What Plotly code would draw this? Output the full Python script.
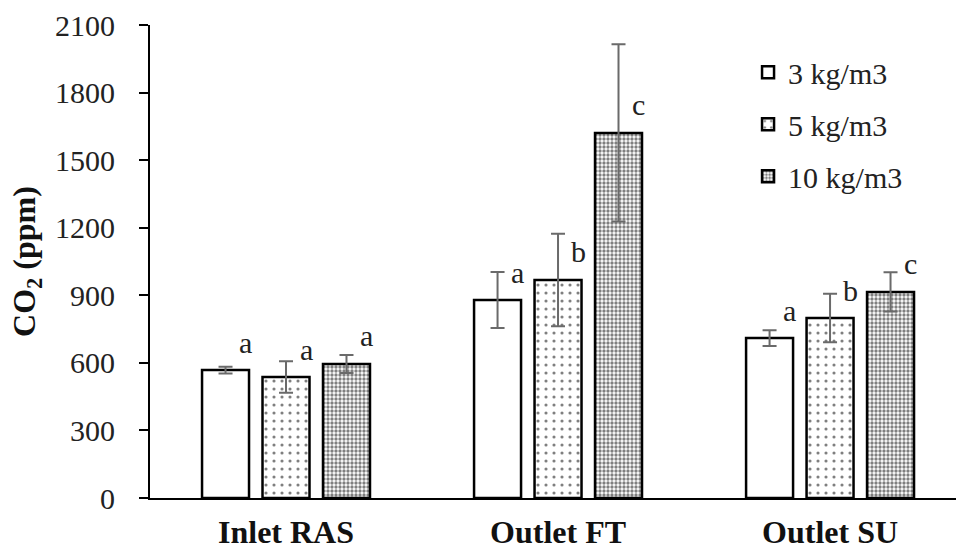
import plotly.graph_objects as go

categories = ["Inlet RAS", "Outlet FT", "Outlet SU"]
series_names = ["3 kg/m3", "5 kg/m3", "10 kg/m3"]
means = [
    [568, 879, 710],
    [537, 968, 799],
    [595, 1621, 915],
]
errors = [
    [15, 124, 35],
    [70, 205, 108],
    [40, 393, 87],
]
letters = [
    ["a", "a", "a"],
    ["a", "b", "b"],
    ["a", "c", "c"],
]

FONT = "Liberation Serif, Times New Roman, serif"
patterns = [
    dict(shape=""),
    dict(shape=".", size=8, solidity=0.12, fgcolor="black", bgcolor="white"),
    dict(shape=".", size=4, solidity=0.55, fgcolor="black", bgcolor="white"),
]

xpos = list(range(len(categories)))

fig = go.Figure()
for i, name in enumerate(series_names):
    fig.add_trace(go.Bar(
        x=xpos, y=means[i], name=name,
        marker=dict(color="white", line=dict(color="black", width=2.5), pattern=patterns[i]),
        error_y=dict(type="data", array=errors[i], color="#6a6a6a", thickness=2, width=7),
        legendgroup=name,
    ))

offsets = [-0.2224, 0.0, 0.2224]
for i in range(3):
    for j in xpos:
        fig.add_annotation(
            x=j + offsets[i], y=means[i][j], text=letters[i][j], showarrow=False,
            xref="x", yref="y", xshift=20, yshift=28, yanchor="middle",
            font=dict(family=FONT, size=30, color="#222"),
        )

fig.update_layout(
    width=956, height=551,
    paper_bgcolor="white", plot_bgcolor="white",
    margin=dict(l=150, r=0, t=25, b=53),
    barmode="group", bargap=0.333, bargroupgap=0.223,
    font=dict(family=FONT, size=30, color="#222"),
    legend=dict(x=0.742, y=0.955, xanchor="left", yanchor="top",
                font=dict(family=FONT, size=30, color="#222"),
                tracegroupgap=10, bgcolor="rgba(0,0,0,0)"),
    showlegend=True,
)
fig.update_xaxes(
    type="linear", range=[-0.5, 2.463],
    tickmode="array", tickvals=xpos, ticktext=categories,
    showline=True, linecolor="black", linewidth=2, ticks="",
    ticklabelstandoff=5,
    showgrid=False, zeroline=False, automargin=False,
    tickfont=dict(family=FONT, size=32, color="#111", weight="bold"),
)
fig.update_yaxes(
    range=[0, 2100], dtick=300, tick0=0,
    showline=True, linecolor="black", linewidth=2,
    ticks="outside", ticklen=9, tickwidth=1.5, tickcolor="black",
    ticklabelstandoff=18,
    showgrid=False, zeroline=False, automargin=False,
    tickfont=dict(family=FONT, size=30, color="#222"),
    title=dict(text="CO<sub>2</sub> (ppm)", standoff=10,
               font=dict(family=FONT, size=32, color="#111", weight="bold")),
)

fig.write_html("out.html", config={"displayModeBar": False},
               post_script="document.body.style.margin='0';document.body.style.overflow='hidden';")
